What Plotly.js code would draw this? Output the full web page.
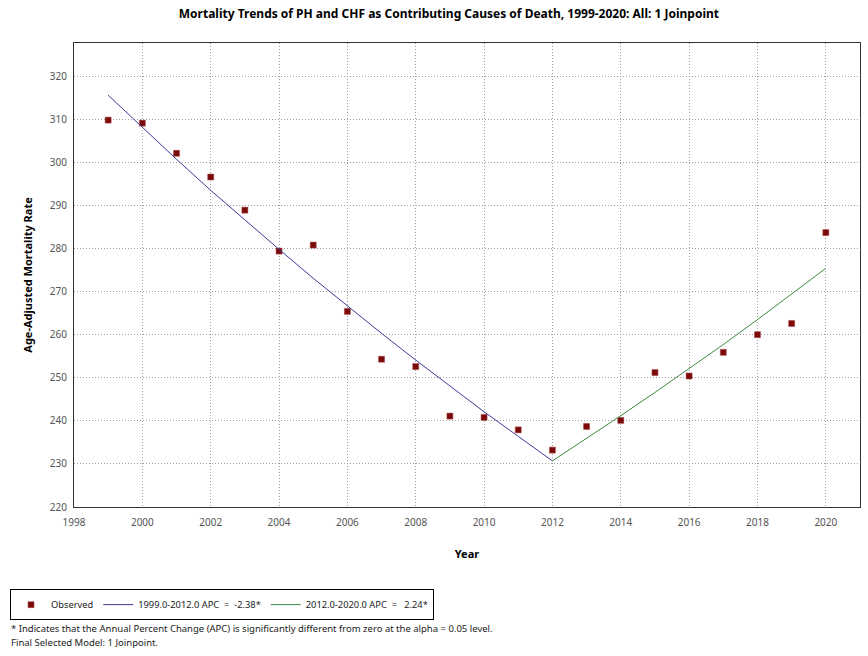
<!DOCTYPE html>
<html>
<head>
<meta charset="utf-8">
<script src="https://cdn.plot.ly/plotly-3.0.1.min.js"></script>
<style>html,body{margin:0;padding:0;background:#fff;}#chart{width:868px;height:656px;}</style>
</head>
<body>
<div id="chart"></div>
<script>
const years = [1999,2000,2001,2002,2003,2004,2005,2006,2007,2008,2009,2010,2011,2012,2013,2014,2015,2016,2017,2018,2019,2020];
const observed = [309.8,309.1,302.1,296.6,288.9,279.4,280.8,265.4,254.3,252.6,241.1,240.8,237.9,233.2,238.7,240.1,251.2,250.4,255.9,260.0,262.6,283.7];
const seg1Years = [1999,2000,2001,2002,2003,2004,2005,2006,2007,2008,2009,2010,2011,2012];
const seg1Fit = [315.6,308.1,300.7,293.5,286.6,279.8,273.1,266.6,260.3,254.1,248.0,242.1,236.4,230.7];
const seg2Years = [2012,2013,2014,2015,2016,2017,2018,2019,2020];
const seg2Fit = [230.7,235.9,241.2,246.6,252.1,257.7,263.5,269.4,275.4];
const xTicks = [1998,2000,2002,2004,2006,2008,2010,2012,2014,2016,2018,2020];
const yTicks = [220,230,240,250,260,270,280,290,300,310,320];
const legendNames = ['Observed', '1999.0-2012.0 APC\u00a0 =\u00a0 -2.38*', '2012.0-2020.0 APC\u00a0 =\u00a0\u00a0 2.24*'];
const titleText = 'Mortality Trends of PH and CHF as Contributing Causes of Death, 1999-2020: All: 1 Joinpoint';
const footnotes = ['* Indicates that the Annual Percent Change (APC) is significantly different from zero at the alpha = 0.05 level.', 'Final Selected Model: 1 Joinpoint.'];

const FONT = 'Noto Sans, Open Sans, DejaVu Sans, sans-serif';

const traces = [
  {x: years, y: observed, type: 'scatter', mode: 'markers', name: legendNames[0],
   marker: {symbol: 'square', size: 6, color: '#7a0a0a', line: {color: '#a84040', width: 0.5}}},
  {x: seg1Years, y: seg1Fit, type: 'scatter', mode: 'lines', name: legendNames[1],
   line: {color: '#3b3b9a', width: 1}},
  {x: seg2Years, y: seg2Fit, type: 'scatter', mode: 'lines', name: legendNames[2],
   line: {color: '#3f8a3f', width: 1}}
];

const layout = {
  width: 868, height: 656,
  margin: {l: 74, r: 8, t: 43, b: 149},
  paper_bgcolor: '#fff', plot_bgcolor: '#fff',
  font: {family: FONT, size: 10, color: '#222'},
  title: {text: titleText, font: {family: FONT, size: 12, color: '#000', weight: 'bold'},
          x: 0.477, xref: 'paper', xanchor: 'center', y: 0.979, yref: 'container', yanchor: 'middle'},
  xaxis: {range: [1998, 2021], tickvals: xTicks, ticktext: xTicks.map(String),
          showgrid: true, gridcolor: '#a0a0a0', griddash: '1px,2px', gridwidth: 1,
          zeroline: false, showline: true, mirror: true, linecolor: '#333', linewidth: 1,
          ticks: 'outside', ticklen: 6, tickcolor: 'rgba(0,0,0,0)', tickfont: {family: FONT, size: 10, color: '#555'},
          title: {text: 'Year', font: {family: FONT, size: 11, color: '#000', weight: 'bold'}, standoff: 22}},
  yaxis: {range: [220, 327.7], tickvals: yTicks, ticktext: yTicks.map(String),
          showgrid: true, gridcolor: '#a0a0a0', griddash: '1px,2px', gridwidth: 1,
          zeroline: false, showline: true, mirror: true, linecolor: '#333', linewidth: 1,
          ticks: 'outside', ticklen: 4, tickcolor: 'rgba(0,0,0,0)', tickfont: {family: FONT, size: 10, color: '#555'},
          title: {text: 'Age-Adjusted Mortality Rate', font: {family: FONT, size: 11, color: '#000', weight: 'bold'}, standoff: 14}},
  showlegend: true,
  legend: {orientation: 'h', x: -0.0814, xanchor: 'left', y: -0.177, yanchor: 'top',
           bordercolor: '#000', borderwidth: 1, bgcolor: '#fff', itemwidth: 30,
           font: {family: FONT, size: 9.3, color: '#222'}},
  annotations: [
    {text: footnotes[0], xref: 'paper', yref: 'paper', x: -0.0827, y: -0.262, xanchor: 'left', yanchor: 'middle', showarrow: false, font: {family: FONT, size: 9.5, color: '#222'}},
    {text: footnotes[1], xref: 'paper', yref: 'paper', x: -0.0827, y: -0.293, xanchor: 'left', yanchor: 'middle', showarrow: false, font: {family: FONT, size: 9.5, color: '#222'}}
  ]
};

Plotly.newPlot('chart', traces, layout, {displayModeBar: false, staticPlot: true});
</script>
</body>
</html>
